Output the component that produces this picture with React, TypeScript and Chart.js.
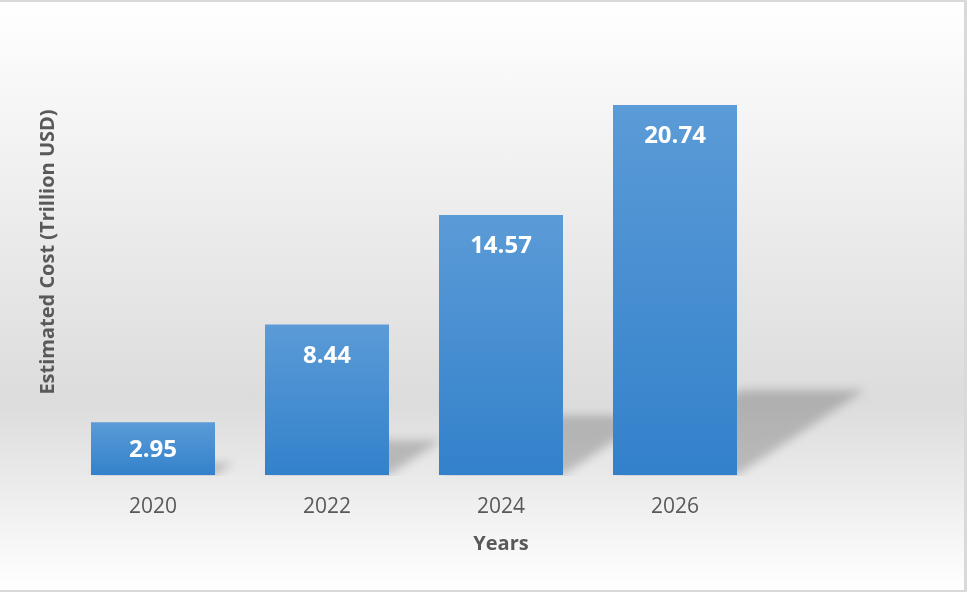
import React, { useEffect, useRef } from "react";
import { Chart, registerables } from "chart.js";

Chart.register(...registerables);

// ---- Data ----
const categories: string[] = ["2020", "2022", "2024", "2026", ""];
const costValues: (number | null)[] = [2.95, 8.44, 14.57, 20.74, null];
const yAxisMin = 0;
const yAxisMax = 25;
const xAxisTitle = "Years";
const yAxisTitle = "Estimated Cost (Trillion USD)";

const FONT = "'Open Sans', 'DejaVu Sans', sans-serif";
const TEXT_COLOR = "#595959";

const shadowPlugin = {
  id: "barShadow",
  beforeDatasetsDraw(chart: any) {
    const ctx = chart.ctx as CanvasRenderingContext2D;
    const meta = chart.getDatasetMeta(0);
    meta.data.forEach((bar: any, i: number) => {
      if (costValues[i] == null) return;
      const { x, y, base, width } = bar.getProps(["x", "y", "base", "width"], true);
      const left = x - width / 2;
      const right = x + width / 2;
      const h = base - y;
      const dx = h * 0.345;
      const dy = h * 0.23;
      ctx.save();
      ctx.beginPath();
      ctx.rect(0, 0, chart.width, base + 1);
      ctx.clip();
      ctx.filter = "blur(5px)";
      ctx.fillStyle = "rgba(0,0,0,0.2)";
      ctx.beginPath();
      ctx.moveTo(left, base);
      ctx.lineTo(right, base);
      ctx.lineTo(right + dx, base - dy);
      ctx.lineTo(left + dx, base - dy);
      ctx.closePath();
      ctx.fill();
      ctx.restore();
    });
  },
};

const labelPlugin = {
  id: "barLabels",
  afterDatasetsDraw(chart: any) {
    const ctx = chart.ctx as CanvasRenderingContext2D;
    const meta = chart.getDatasetMeta(0);
    ctx.save();
    ctx.fillStyle = "#ffffff";
    ctx.font = `bold 24px ${FONT}`;
    ctx.textAlign = "center";
    ctx.textBaseline = "middle";
    meta.data.forEach((bar: any, i: number) => {
      const v = costValues[i];
      if (v == null) return;
      const { x, y, base } = bar.getProps(["x", "y", "base"], true);
      const ly = Math.min(y + 31.5, (y + base) / 2 + 1.5);
      ctx.fillText(v.toFixed(2), x, ly);
    });
    ctx.restore();
  },
};

export default function App() {
  const canvasRef = useRef<HTMLCanvasElement | null>(null);

  useEffect(() => {
    if (!canvasRef.current) return;
    const chart = new Chart(canvasRef.current, {
      type: "bar",
      data: {
        labels: categories,
        datasets: [
          {
            data: costValues as any,
            backgroundColor: (c: any) => {
              const ch = c.chart;
              const ys = ch.scales?.y;
              const v = costValues[c.dataIndex];
              if (!ys || v == null || !ch.chartArea) return "#4a8fd2";
              const top = ys.getPixelForValue(v);
              const bottom = ys.getPixelForValue(0);
              const g = ch.ctx.createLinearGradient(0, top, 0, bottom);
              g.addColorStop(0, "#5b9bd7");
              g.addColorStop(1, "#3381cb");
              return g;
            },
            borderWidth: 0,
            categoryPercentage: 1,
            barPercentage: 0.7126,
          },
        ],
      },
      options: {
        responsive: false,
        animation: false,
        events: [],
        layout: { padding: { left: 36, right: 31, top: 29, bottom: 36 } },
        plugins: {
          legend: { display: false },
          tooltip: { enabled: false },
          title: { display: false },
        },
        scales: {
          x: {
            grid: { display: false, drawTicks: false },
            border: { display: false },
            ticks: {
              color: TEXT_COLOR,
              font: { family: FONT, size: 21 },
              padding: 19,
              maxRotation: 0,
            },
            title: {
              display: true,
              text: xAxisTitle,
              color: TEXT_COLOR,
              font: { family: FONT, size: 20, weight: "bold" },
              padding: { top: -6.2, bottom: 0 },
            },
          },
          y: {
            min: yAxisMin,
            max: yAxisMax,
            grid: { display: false, drawTicks: false },
            border: { display: false },
            ticks: { display: false },
            title: {
              display: true,
              text: yAxisTitle,
              color: TEXT_COLOR,
              font: { family: FONT, size: 20, weight: "bold" },
              padding: { top: 0, bottom: 6 },
            },
          },
        },
      },
      plugins: [shadowPlugin, labelPlugin],
    });
    return () => chart.destroy();
  }, []);

  return (
    <div style={{ position: "absolute", left: 0, top: 0, width: 967, height: 592 }}>
      <div
        style={{
          position: "absolute",
          left: 0,
          top: 0,
          width: 967,
          height: 592,
          boxSizing: "border-box",
          borderTop: "2px solid #d9d9d9",
          borderRight: "3px solid #d9d9d9",
          borderBottom: "2px solid #d9d9d9",
          background:
            "linear-gradient(to bottom, #ffffff 0%, #dcdcdc 68%, #ffffff 100%)",
        }}
      />
      <canvas
        ref={canvasRef}
        width={967}
        height={592}
        style={{ position: "absolute", left: 0, top: 0, width: 967, height: 592 }}
      />
    </div>
  );
}
